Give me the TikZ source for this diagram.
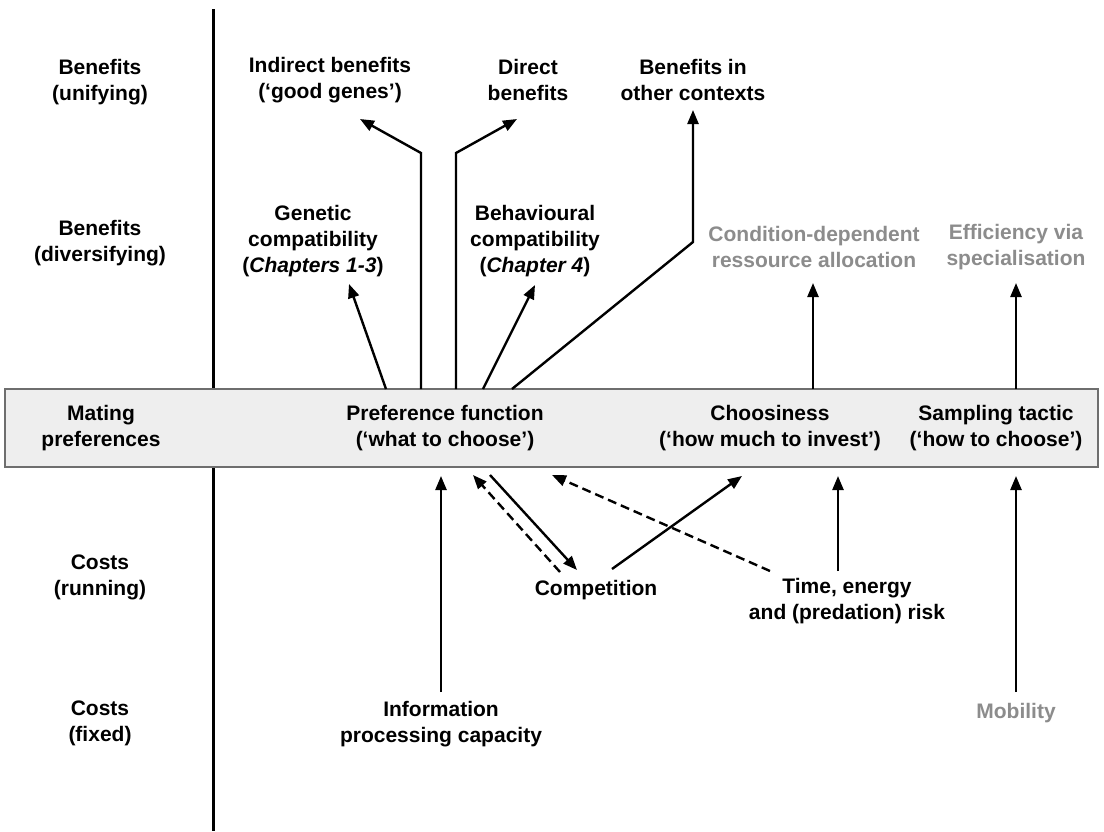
\documentclass[tikz,border=0pt]{standalone}
\usepackage{fontspec}
\setmainfont{Liberation Sans}
\usetikzlibrary{arrows.meta}
\definecolor{boxfill}{RGB}{238,238,238}
\definecolor{boxline}{RGB}{110,110,110}
\definecolor{txtgray}{RGB}{140,140,140}
\tikzset{
  lbl/.style={align=center,font=\fontsize{21}{26}\selectfont\bfseries,inner sep=0pt},
  glbl/.style={lbl,text=txtgray},
  arr/.style={line width=2.4pt,-{Triangle[length=14pt,width=11pt]}},
  darr/.style={arr,dash pattern=on 9pt off 5pt},
  axis/.style={line width=3pt},
}
\begin{document}
\begin{tikzpicture}[x=1pt,y=-1pt]
\useasboundingbox (0,0) rectangle (1104,831);
\fill[white] (0,0) rectangle (1104,831);
% axis
\coordinate (axtop) at (213,9);
\coordinate (axbot) at (213,831);
\draw[axis] (axtop) -- (axbot);
% band
\node[draw=boxline,fill=boxfill,line width=1.5pt,minimum width=1093pt,minimum height=78pt,inner sep=0pt] (band) at (551.5,428) {};
% left labels
\node[lbl] (lu) at (100,82) {Benefits\\(unifying)};
\node[lbl] (ld) at (100,243) {Benefits\\(diversifying)};
\node[lbl] (lm) at (101,428) {Mating\\preferences};
\node[lbl] (lr) at (100,577) {Costs\\(running)};
\node[lbl] (lf) at (100,723) {Costs\\(fixed)};
% top row
\node[lbl] (indirect) at (330,80) {Indirect benefits\\(‘good genes’)};
\node[lbl] (direct) at (528,80) {Direct\\benefits};
\node[lbl] (other) at (693,80) {Benefits in\\other contexts};
% second row
\node[lbl] (genetic) at (313,241) {Genetic\\compatibility\\(\textit{Chapters 1-3})};
\node[lbl] (behav) at (535,241) {Behavioural\\compatibility\\(\textit{Chapter 4})};
\node[glbl] (cond) at (814,247) {Condition-dependent\\ressource allocation};
\node[glbl] (effic) at (1016,247) {Efficiency via\\specialisation};
% band texts
\node[lbl] (pref) at (445,428) {Preference function\\(‘what to choose’)};
\node[lbl] (choos) at (770,428) {Choosiness\\(‘how much to invest’)};
\node[lbl] (samp) at (996,428) {Sampling tactic\\(‘how to choose’)};
% lower texts
\node[lbl] (comp) at (596,590) {Competition};
\node[lbl] (time) at (847,601) {Time, energy\\and (predation) risk};
\node[lbl] (info) at (441,724) {Information\\processing capacity};
\node[glbl] (mob) at (1016,713) {Mobility};
% coordinates for connector ends
\coordinate (iS) at (421,389); \coordinate (iC) at (421,153); \coordinate (iT) at (360,119);
\coordinate (dS) at (456,389); \coordinate (dC) at (456,153); \coordinate (dT) at (517,119);
\coordinate (oS) at (512,389); \coordinate (oC) at (693,242); \coordinate (oT) at (693,110);
\coordinate (gS) at (386,389); \coordinate (gT) at (349,284);
\coordinate (bS) at (483,389); \coordinate (bT) at (535,285);
\coordinate (cS) at (813,389); \coordinate (cT) at (813,283);
\coordinate (eS) at (1016,389); \coordinate (eT) at (1016,283);
\coordinate (infS) at (441,692); \coordinate (infT) at (441,476);
\coordinate (cpS) at (560,572); \coordinate (cpT) at (473,475);
\coordinate (pcS) at (490,475); \coordinate (pcT) at (577,570);
\coordinate (ccS) at (612,569); \coordinate (ccT) at (742,476);
\coordinate (tpS) at (770,571); \coordinate (tpT) at (552,475);
\coordinate (tcS) at (838,571); \coordinate (tcT) at (838,476);
\coordinate (mS) at (1016,692); \coordinate (mT) at (1016,476);
% upper connectors
\draw[arr] (iS) -- (iC) -- (iT);
\draw[arr] (dS) -- (dC) -- (dT);
\draw[arr] (oS) -- (oC) -- (oT);
\draw[arr] (gS) -- (gT);
\draw[arr] (bS) -- (bT);
\draw[arr] (cS) -- (cT);
\draw[arr] (eS) -- (eT);
% lower connectors
\draw[arr] (infS) -- (infT);
\draw[darr] (cpS) -- (cpT);
\draw[arr] (pcS) -- (pcT);
\draw[arr] (ccS) -- (ccT);
\draw[darr] (tpS) -- (tpT);
\draw[arr] (tcS) -- (tcT);
\draw[arr] (mS) -- (mT);
\end{tikzpicture}
\end{document}
